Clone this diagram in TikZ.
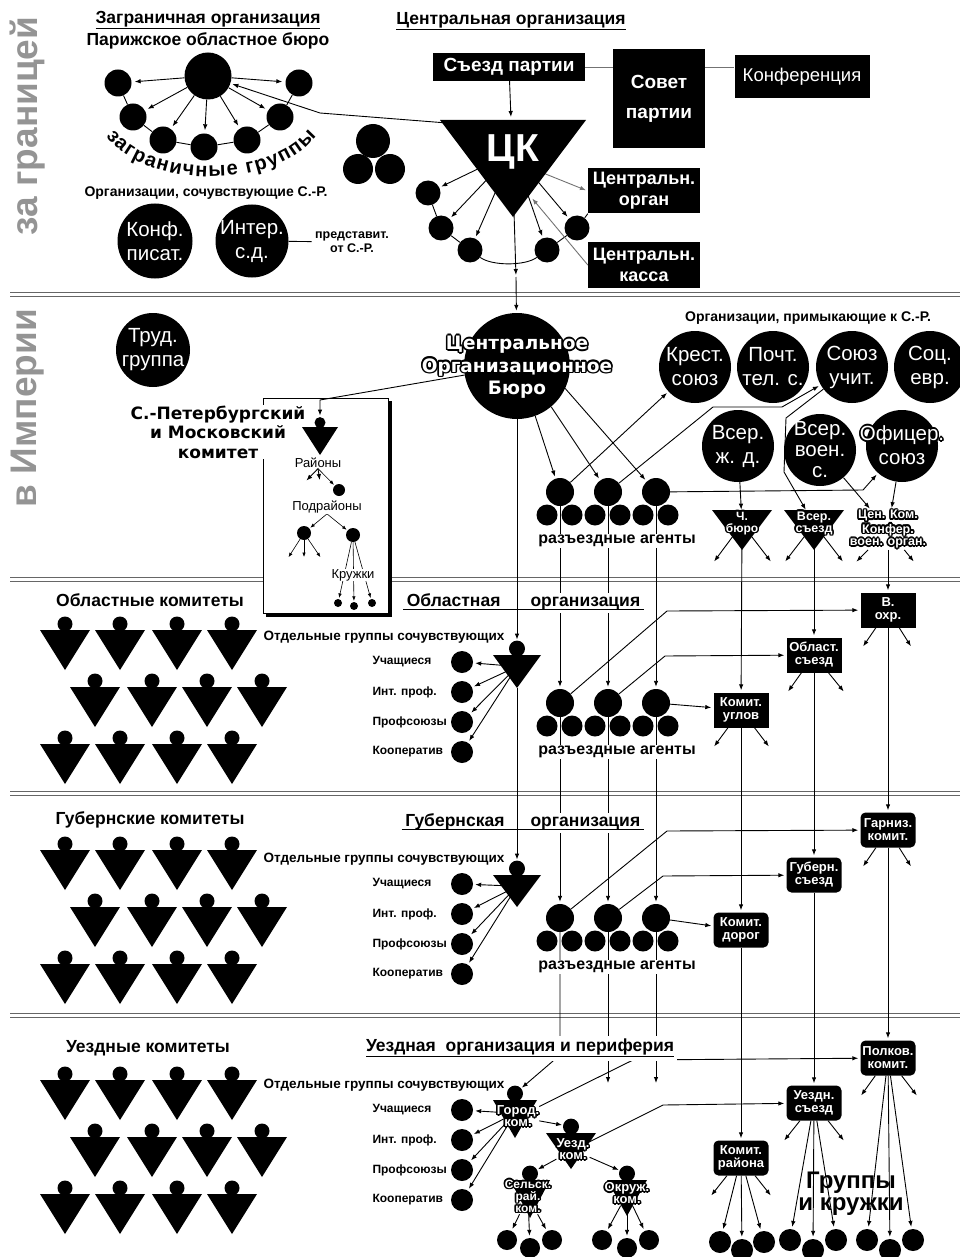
\documentclass[tikz,border=0pt]{standalone}
\usepackage{fontspec}
\setmainfont{Liberation Sans}
\newfontfamily\widefont{DejaVu Sans}
\usepackage[copies]{contour}
\usetikzlibrary{arrows.meta,decorations.text}
\contourlength{1.6pt}
\contournumber{10}
\colorlet{sidegray}{black!42}
\colorlet{linkgray}{black!55}

\pgfdeclarelayer{base}
\pgfdeclarelayer{links}
\pgfsetlayers{base,links,main}

\tikzset{
  arr/.style={-{Latex[length=6pt,width=4.5pt]}, line width=0.9pt, shorten >=2pt},
  sarr/.style={-{Latex[length=4.5pt,width=3.5pt]}, line width=0.6pt, shorten >=1pt},
  con/.style={line width=0.9pt},
  blob/.style={circle, fill=black, inner sep=0pt, minimum size=#1},
  blob/.default=22pt,
  org/.style={circle, fill=black, text=white, inner sep=-8pt, minimum size=72pt, align=center, font=\fontsize{20.5}{24}\selectfont},
  orgtxt/.style={text=white, align=center, inner sep=0pt, font=\fontsize{20.5}{24}\selectfont},
  blk/.style={fill=black, text=white, align=center, inner sep=0pt, font=\bfseries\fontsize{19}{22}\selectfont},
  kbox/.style={fill=black, text=white, align=center, inner sep=0pt, minimum width=55pt, minimum height=35pt, font=\bfseries\fontsize{13}{13}\selectfont},
  hdr/.style={font=\bfseries\fontsize{17.5}{20}\selectfont},
  lbl/.style={font=\bfseries\fontsize{14}{16}\selectfont},
  sml/.style={font=\bfseries\fontsize{12}{14}\selectfont},
  tnote/.style={font=\fontsize{13}{14}\selectfont, fill=white, inner sep=0.5pt},
  pinlbl/.style={text=white, align=center, inner sep=0pt, font=\bfseries\fontsize{13}{12}\selectfont},
  sepline/.style={black!60, line width=0.9pt},
}

% committee sign: head on an inverted triangle
\newcommand{\komshape}[5]{% x, top, half width, height, head radius
  \fill (#1-#3,#2) -- (#1+#3,#2) -- (#1,#2+#4) -- cycle;
  \fill (#1,#2-0.8*#5) circle (#5pt);
}
\newcommand{\pinnode}[6]{% name, x, top, half width, height, head radius
  \komshape{#2}{#3}{#4}{#5}{#6}
  \coordinate (#1h) at (#2,#3-0.8*#6);
  \coordinate (#1c) at (#2,#3+0.35*#5);
  \coordinate (#1v) at (#2,#3+#5);
}
\newcommand{\komgrid}[1]{% three rows of committees under a heading at y=#1
  \foreach \kx in {65,120,177,232} {
    \komshape{\kx}{#1+30}{25}{40}{7.5}
    \komshape{\kx}{#1+144}{25}{40}{7.5}
  }
  \foreach \kx in {95,152,207,262} {\komshape{\kx}{#1+87}{25}{40}{7.5}}
}
\newcommand{\sympgroups}[2]{% prefix, heading y
  \node[lbl, font=\bfseries\fontsize{13.5}{15}\selectfont] (#1otd) at (384,#2+37) {Отдельные группы сочувствующих};
  \foreach \st [count=\sk] in {Учащиеся,Инт. проф.,Профсоюзы,Кооператив} {
    \node[sml, anchor=west] (#1l\sk) at (369,#2+32+30*\sk) {\st};
    \node[blob] (#1s\sk) at (462,#2+32+30*\sk) {};
  }
}
\newcommand{\agentrow}[2]{% prefix, y of the three big circles
  \foreach \ax [count=\ak] in {560,608,656} {
    \node[blob=28pt] (#1\ak) at (\ax,#2) {};
    \node[blob=21pt] (#1l\ak) at (\ax-13,#2+23) {};
    \node[blob=21pt] (#1r\ak) at (\ax+12,#2+23) {};
  }
  \node[font=\bfseries\fontsize{16}{18}\selectfont, fill=white, inner sep=1pt] (#1lab) at (617,#2+49) {разъездные агенты};
}
\newcommand{\fanarrows}[3]{% source, prefix, list of x/y ends
  \foreach \fx/\fy [count=\fk] in {#3} {
    \coordinate (#2\fk) at (\fx,\fy);
    \draw[arr] (#1) -- (#2\fk);
  }
}

\begin{document}
\begin{tikzpicture}[x=1pt,y=-1pt]
\useasboundingbox (0,0) rectangle (960,1257);

% band separators and the St Petersburg frame
\begin{pgfonlayer}{base}
\foreach \sy in {292,577,791,1013} {
  \draw[sepline] (10,\sy) -- (960,\sy);
  \draw[sepline, line width=1.7pt] (10,\sy+4.5) -- (960,\sy+4.5);
}
\fill (266,401) rectangle (392,617);
\draw[fill=white, line width=0.9pt] (263,398) rectangle (388,613);
\end{pgfonlayer}

\node[rotate=90, text=sidegray, font=\bfseries\fontsize{37}{37}\selectfont] (zagran) at (28,126) {за границей};
\node[rotate=90, text=sidegray, font=\bfseries\fontsize{37}{37}\selectfont] (imperia) at (28,408) {в Империи};

% abroad
\node[hdr] (zagorg) at (208,20) {\underline{Заграничная организация}};
\node[hdr] (parizh) at (208,41) {Парижское областное бюро};
\node[blob=47pt] (pb) at (208,76) {};
\foreach \gx/\gy [count=\gk] in {118/83,133/117,163/140,204/147,247/140,280/117,299/83}
  \node[blob=27pt] (g\gk) at (\gx,\gy) {};
\path[decorate, decoration={text along path, text align=fit to path,
  text={|\bfseries\fontsize{20}{20}\selectfont|заграничные группы}}]
  (106,136) .. controls (145,190) and (275,190) .. (316,136);
\node[lbl] (sochuv) at (206,193) {Организации, сочувствующие С.-Р.};
\node[org, minimum size=75pt] (konf) at (155,241) {Конф.\\писат.};
\node[org, minimum size=73pt] (inter) at (252,241) {Интер.\\с.д.};
\node[sml, align=center, font=\bfseries\fontsize{12.5}{14}\selectfont] (predst) at (352,242) {представит.\\от С.-Р.};
\node[blob=34pt] (tri1) at (373,141) {};
\node[blob=30pt] (tri2) at (358,169) {};
\node[blob=30pt] (tri3) at (390,169) {};

% central organisation
\node[hdr] (centorg) at (511,21) {\underline{Центральная организация}};
\node[blk, minimum width=152pt, minimum height=28pt] (sezd) at (509,67) {Съезд партии};
\node[blk, minimum width=92pt, minimum height=99pt, font=\bfseries\fontsize{19}{30}\selectfont] (sovet) at (659,99) {Совет\\партии};
\node[blk, font=\fontsize{18.5}{20}\selectfont, minimum width=135pt, minimum height=43pt] (konfer) at (802,77) {Конференция};
\fill (440,120) -- (586,120) -- (513,217) -- cycle;
\node[text=white, font=\bfseries\fontsize{39}{39}\selectfont] (ck) at (513,152) {ЦК};
\coordinate (cktop) at (511,119);
\coordinate (cktl) at (447,123);
\coordinate (zbend) at (320,113);
\coordinate (ckr) at (531,197);
\coordinate (ckv) at (514,212);
\coordinate (ckmid) at (516,277);
\foreach \cx/\cy [count=\ci] in {428/193,441/228,470/250,547/250,577/228}
  \node[blob=25pt] (c\ci) at (\cx,\cy) {};
\node[blk, font=\bfseries\fontsize{18}{21}\selectfont, minimum width=112pt, minimum height=45pt] (korgan) at (644,191) {Центральн.\\орган};
\node[blk, font=\bfseries\fontsize{18}{21}\selectfont, minimum width=112pt, minimum height=45pt] (kkassa) at (644,265) {Центральн.\\касса};

% Empire
\node[org, minimum size=74pt] (trud) at (153,350) {Труд.\\группа};
\node[blob=106pt] (cob) at (517,366) {};
\node[text=white, align=center, inner sep=0pt, font=\widefont\bfseries\fontsize{18.5}{22.5}\selectfont] (cobt) at (517,368)
  {\contour{black}{Центральное}\\\contour{black}{Организационное}\\\contour{black}{Бюро}};
\node[font=\widefont\bfseries\fontsize{17}{19.5}\selectfont, fill=white, align=center, inner sep=1pt] (spbt) at (218,432)
  {С.-Петербургский\\и Московский\\комитет};
\coordinate (spbbend) at (320,400);
\pinnode{spb}{320}{427}{18}{28}{5.5}
\node[tnote] (raiony) at (318,463) {Районы};
\node[blob=12pt] (pdc) at (339,490) {};
\node[tnote] (podr) at (327,507) {Подрайоны};
\node[blob=14pt] (pl) at (304,533) {};
\node[blob=14pt] (pr) at (353,535) {};
\node[tnote] (kruzh) at (353,575) {Кружки};
\foreach \kx/\ky [count=\kk] in {338/603,354/606,372/603}
  \node[blob=8pt] (kd\kk) at (\kx,\ky) {};

\node[lbl] (primyk) at (808,318) {Организации, примыкающие к С.-Р.};
\node[org] (krest) at (695,367) {Крест.\\союз};
\node[org] (pocht) at (773,367) {Почт.\\тел. с.};
\node[org] (soyuz) at (852,367) {Союз\\учит.};
\node[org] (socevr) at (930,367) {Соц.\\евр.};
\node[org] (vserzd) at (738,446) {Всер.\\ж. д.};
\node[org, font=\fontsize{20.5}{21}\selectfont] (vservoen) at (820,450) {Всер.\\воен.\\с.};
\node[blob=72pt] (oficer) at (902,446) {};
\node[orgtxt] (ofit) at (902,446) {\contour{black}{Офицер.}\\\contour{black}{союз}};
\agentrow{ia}{492}
\coordinate (e1) at (713,407);
\coordinate (e2) at (782,407);
\coordinate (e3) at (863,490);
\coordinate (e4) at (786,418);
\coordinate (e5) at (784,472);
\fill (712,510) -- (772,510) -- (742,550) -- cycle;
\node[pinlbl, font=\bfseries\fontsize{12}{12}\selectfont] (chb) at (742,524) {\contour{black}{Ч.}\\\contour{black}{бюро}};
\fill (784,510) -- (844,510) -- (814,550) -- cycle;
\node[pinlbl, font=\bfseries\fontsize{12.5}{12}\selectfont] (vsezd) at (814,524) {\contour{black}{Всер.}\\\contour{black}{съезд}};
\node[pinlbl, font=\bfseries\fontsize{12.5}{12.5}\selectfont] (cenkom) at (888,530)
  {\contour{black}{Цен. Ком.}\\\contour{black}{Конфер.}\\\contour{black}{воен. орган.}};

% regional level
\node[hdr] (oblkom) at (150,600) {Областные комитеты};
\komgrid{600}
\node[hdr, fill=white, anchor=base east] (obt1) at (504,606) {Областная};
\node[hdr, fill=white, anchor=base west] (obt2) at (527,606) {организация};
\draw[line width=1pt] ([yshift=-3pt]obt1.base west) -- ([yshift=-3pt]obt2.base east);
\pinnode{obl}{517}{655}{24}{33}{8}
\sympgroups{obl}{600}
\agentrow{oa}{703}
\node[kbox] (ugl) at (741,710) {Комит.\\углов};
\node[kbox] (oblsezd) at (814,655) {Област.\\съезд};
\node[kbox] (voxr) at (888,610) {В.\\охр.};
\coordinate (f1) at (667,611);
\coordinate (f2) at (665,656);

% province level
\node[hdr] (gubkom) at (150,820) {Губернские комитеты};
\komgrid{820}
\node[hdr, fill=white, anchor=base east] (gbt1) at (508,826) {Губернская};
\node[hdr, fill=white, anchor=base west] (gbt2) at (527,826) {организация};
\draw[line width=1pt] ([yshift=-3pt]gbt1.base west) -- ([yshift=-3pt]gbt2.base east);
\pinnode{gub}{517}{875}{24}{32}{8}
\sympgroups{gub}{822}
\agentrow{ga}{918}
\node[kbox, rounded corners=5pt] (dorog) at (741,930) {Комит.\\дорог};
\node[kbox, rounded corners=5pt] (gubsezd) at (814,875) {Губерн.\\съезд};
\node[kbox, rounded corners=5pt] (garn) at (888,830) {Гарниз.\\комит.};
\coordinate (h1) at (667,831);
\coordinate (h2) at (663,876);

% district level
\node[hdr] (uezkom) at (148,1048) {Уездные комитеты};
\komgrid{1050}
\node[hdr, fill=white] (uezt) at (520,1048) {\underline{Уездная\ \ организация и периферия}};
\sympgroups{uz}{1048}
\pinnode{gorod}{515}{1100}{22}{38}{8}
\node[pinlbl] (gorod) at (518,1117) {\contour{black}{Город.}\\\contour{black}{ком.}};
\pinnode{uez}{571}{1133}{25}{36}{8}
\node[pinlbl] (uez) at (573,1150) {\contour{black}{Уезд.}\\\contour{black}{ком.}};
\pinnode{selsk}{530}{1180}{20}{38}{8}
\node[pinlbl, font=\bfseries\fontsize{12}{12}\selectfont] (selsk) at (528,1197) {\contour{black}{Сельск.}\\\contour{black}{рай.}\\\contour{black}{ком.}};
\pinnode{okr}{627}{1180}{20}{36}{8}
\node[pinlbl] (okr) at (627,1194) {\contour{black}{Окруж.}\\\contour{black}{ком.}};
\node[kbox, rounded corners=5pt] (rayona) at (741,1158) {Комит.\\района};
\node[kbox, rounded corners=5pt] (uezsezd) at (814,1103) {Уездн.\\съезд};
\node[kbox, rounded corners=5pt] (polk) at (888,1058) {Полков.\\комит.};
\node[font=\bfseries\fontsize{24}{22}\selectfont, align=center] (gruppy) at (851,1194) {Группы\\и кружки};
\foreach \dx/\dy [count=\dk] in {507/1240,530/1248,552/1240} \node[blob=20pt] (sd\dk) at (\dx,\dy) {};
\foreach \dx/\dy [count=\dk] in {602/1240,627/1248,649/1240} \node[blob=20pt] (od\dk) at (\dx,\dy) {};
\foreach \dx/\dy [count=\dk] in {720/1242,742/1250,764/1242} \node[blob=22pt] (rd\dk) at (\dx,\dy) {};
\foreach \dx/\dy [count=\dk] in {790/1240,813/1250,836/1240} \node[blob=22pt] (ud\dk) at (\dx,\dy) {};
\foreach \dx/\dy [count=\dk] in {867/1240,890/1250,913/1240} \node[blob=22pt] (pkd\dk) at (\dx,\dy) {};
\coordinate (u1) at (560,1055);
\coordinate (u2) at (633,1060);
\coordinate (u3) at (663,1105);

% connectors
\begin{pgfonlayer}{links}
\foreach \i in {1,...,7} \draw[arr, shorten >=3pt] (pb) -- (g\i);
\draw[con] (g1) -- (g2) -- (g3) -- (g4) -- (g5) -- (g6) -- (g7);
\draw[con] (inter) -- (predst);
\draw[linkgray, line width=0.7pt] (sezd.east) -- (sezd.east -| sovet.west);
\draw[linkgray, line width=0.7pt] (sezd.east -| sovet.east) -- (sezd.east -| konfer.west);
\draw[arr] (sezd) -- (cktop);
\draw[arr] (cktl) -- (zbend) -- (pb);
\foreach \i in {1,...,5} \draw[arr] (ck) -- (c\i);
\draw[con] (c1) -- (c2) -- (c3) .. controls (492,266) and (525,266) .. (c4) -- (c5) -- (korgan.south west);
\draw[arr, linkgray] (ck.south east) -- (korgan.west);
\draw[arr, linkgray] (kkassa.west) -- (ckr);
\draw[arr] (ckv) -- (ckmid);
\draw[arr] (ckmid) -- (cob);

\draw[arr, shorten >=7pt] (cob) -- (spbbend) -- (spbh);
\fanarrows{raiony.south}{raf}{305/482,320/482}
\draw[sarr] (raiony.south) -- (pdc);
\draw[sarr] (podr.south) -- (pl);
\draw[sarr] (podr.south) -- (pr);
\foreach \px [count=\pk] in {288,304,321} {
  \coordinate (plf\pk) at (\px,558);
  \draw[sarr] (pl) -- (plf\pk);
}
\foreach \k in {1,2,3} \draw[sarr] (pr) -- (kd\k);

\draw[arr] (cob.-70) -- (ia1);
\draw[arr] (cob.-50) -- (ia2);
\draw[arr] (cob.-25) -- (ia3);
\draw[arr] (ia1) -- (krest);
\draw[arr] (ia2) -- (e1) -- (e2) -- (soyuz);
\draw[arr] (ia3) -- (e3) -- (oficer);
\draw[arr] (soyuz) -- (e4) -- (e5) -- (vsezd);
\draw[arr] (vserzd) -- (chb);
\draw[arr] (vservoen) -- (cenkom);
\draw[arr] (oficer) -- (cenkom);
\fanarrows{chb}{chf}{713/563,772/563}
\fanarrows{vsezd}{vsf}{784/563,844/563}
\fanarrows{cenkom}{cnf}{855/563,915/563}

% verticals through the bands
\draw[arr, shorten >=9pt] (cob) -- (oblh);
\draw[arr, shorten >=9pt] (oblv) -- (gubh);
\foreach \i in {1,2,3} {
  \draw[arr] (ia\i) -- (oa\i);
  \draw[arr] (oa\i) -- (ga\i);
}
\draw[arr] (chb) -- (ugl);
\draw[arr] (ugl) -- (dorog);
\draw[arr] (dorog) -- (rayona);
\draw[arr] (vsezd) -- (oblsezd);
\draw[arr] (oblsezd) -- (gubsezd);
\draw[arr] (gubsezd) -- (uezsezd);
\draw[arr] (cenkom) -- (voxr);
\draw[arr] (voxr) -- (garn);
\draw[arr] (garn) -- (polk);

% regional
\foreach \k in {1,...,4} \draw[arr] (oblc) -- (obls\k);
\draw[arr] (oa1) -- (f1) -- (voxr);
\draw[arr] (oa2) -- (f2) -- (oblsezd);
\draw[arr] (oa3) -- (ugl);
\fanarrows{ugl}{uf}{713/748,770/748}
\fanarrows{oblsezd}{osf}{787/693,845/693}
\fanarrows{voxr}{vof}{862/648,912/648}

% province
\foreach \k in {1,...,4} \draw[arr] (gubc) -- (gubs\k);
\draw[arr] (ga1) -- (h1) -- (garn);
\draw[arr] (ga2) -- (h2) -- (gubsezd);
\draw[arr] (ga3) -- (dorog);
\fanarrows{garn}{gaf}{862/868,912/868}

% district
\draw[arr, shorten >=9pt] (ga1) -- (u1) -- (gorodh);
\fanarrows{ga2}{gbf}{608/1085}
\fanarrows{ga3}{gcf}{656/1085}
\foreach \k in {1,...,4} \draw[arr] (gorodc) -- (uzs\k);
\draw[arr, shorten >=9pt] (gorod) -- (uezh);
\draw[arr] (gorod) -- (u2) -- (polk);
\draw[arr] (uez) -- (u3) -- (uezsezd);
\draw[arr, shorten >=9pt] (uez) -- (selskh);
\draw[arr, shorten >=9pt] (uez) -- (okrh);
\foreach \k in {1,2,3} {
  \draw[arr] (selsk) -- (sd\k);
  \draw[arr] (okr) -- (od\k);
  \draw[arr] (rayona) -- (rd\k);
  \draw[arr] (uezsezd) -- (ud\k);
  \draw[arr] (polk) -- (pkd\k);
}
\fanarrows{rayona}{rf}{710/1197,772/1197}
\fanarrows{uezsezd}{usf}{783/1142,845/1142}
\fanarrows{polk}{pf}{860/1097,918/1097}
\end{pgfonlayer}
\end{tikzpicture}
\end{document}
